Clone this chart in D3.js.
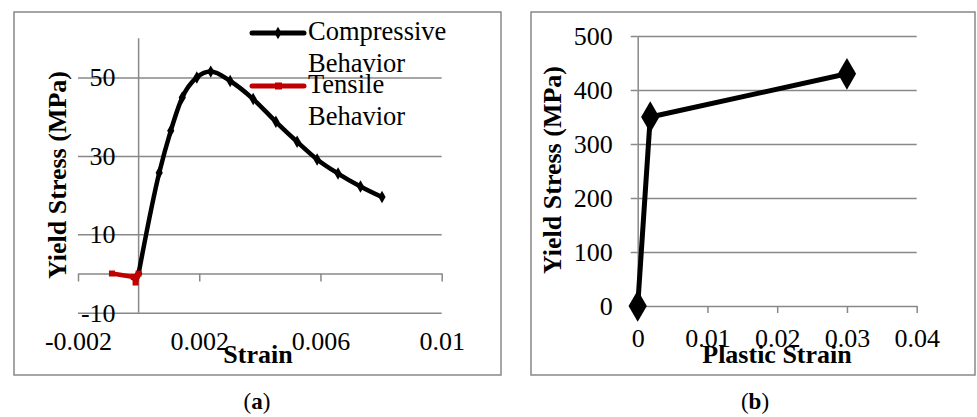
<!DOCTYPE html>
<html>
<head>
<meta charset="utf-8">
<script src="https://cdn.jsdelivr.net/npm/d3@7"></script>
<style>
  html, body { margin: 0; padding: 0; background: #fff; }
  svg { display: block; }
  text { font-family: "Liberation Serif", "Times New Roman", serif; fill: #000; }
</style>
</head>
<body>
<svg id="fig" width="977" height="417"></svg>
<script>
// ---- Panel (a): concrete behaviour ----
const compStrain = [0, 0.00068, 0.00106, 0.00144, 0.00192, 0.00238, 0.00302, 0.00378, 0.00453, 0.00523, 0.00589, 0.00658, 0.00732, 0.00803];
const compStress = [0, 25.7, 36.4, 44.9, 50.0, 51.5, 49.1, 44.5, 38.7, 33.6, 29.1, 25.5, 22.2, 19.5];
const tensStrain = [-0.00088, -0.00016, -0.00010, 0];
const tensStress = [0, -0.9, -2.3, 0];
const aXTicks = [-0.002, 0.002, 0.006, 0.01];
const aYTicks = [-10, 10, 30, 50];
const aXDomain = [-0.002, 0.01];
const aYDomain = [-10, 60];
const aSeries = ["Compressive Behavior", "Tensile Behavior"];

// ---- Panel (b): steel behaviour ----
const plasticStrain = [0, 0.0018, 0.03];
const steelStress = [0, 350, 430];
const bXTicks = [0, 0.01, 0.02, 0.03, 0.04];
const bYTicks = [0, 100, 200, 300, 400, 500];
const bXDomain = [0, 0.04];
const bYDomain = [0, 500];

const svg = d3.select("#fig");
const GRID = "#888888";
const RED = "#C00000";
const FS = 26;

function frame(x, y, w, h) {
  svg.append("rect").attr("x", x).attr("y", y).attr("width", w).attr("height", h)
    .attr("fill", "none").attr("stroke", GRID).attr("stroke-width", 1.5);
}

function styleAxis(g) {
  g.selectAll("path.domain").attr("stroke", GRID).attr("stroke-width", 1.5);
  g.selectAll(".tick line").attr("stroke", GRID).attr("stroke-width", 1.5);
  g.selectAll("text").attr("font-family", "Liberation Serif, Times New Roman, serif")
    .attr("font-size", FS).attr("fill", "#000");
}

const diamond = d3.symbol().type(d3.symbolDiamond);

// ================= Panel (a) =================
frame(14, 12, 487, 363);
const xA = d3.scaleLinear().domain(aXDomain).range([78, 441.7]);
const yA = d3.scaleLinear().domain(aYDomain).range([312.7, 38.3]);
const gA = svg.append("g");

// horizontal gridlines
gA.append("g").attr("transform", `translate(${xA.range()[0]},0)`)
  .call(d3.axisLeft(yA).tickValues(aYTicks).tickSize(-(xA.range()[1] - xA.range()[0])).tickFormat(""))
  .call(g => { g.select(".domain").remove(); styleAxis(g); });

// vertical axis crossing at strain 0
gA.append("g").attr("transform", `translate(${xA(0)},0)`)
  .call(d3.axisLeft(yA).tickValues(aYTicks).tickSize(0).tickPadding(23).tickFormat(d => String(d)))
  .call(g => { g.select(".domain").attr("d", `M0,${yA(aYDomain[0])}V${yA(aYDomain[1])}`); styleAxis(g); });

// horizontal axis at stress 0, tick marks pointing down
gA.append("g").attr("transform", `translate(0,${yA(0)})`)
  .call(d3.axisBottom(xA).tickValues(aXTicks).tickSizeInner(8).tickSizeOuter(0).tickFormat(""))
  .call(styleAxis);

// tick labels along the bottom of the plot
gA.append("g").attr("transform", `translate(0,${yA(-10)})`)
  .call(d3.axisBottom(xA).tickValues(aXTicks).tickSize(0).tickPadding(19).tickFormat(d => String(d)))
  .call(g => { g.select(".domain").remove(); styleAxis(g); });

const lineA = d3.line().x(d => xA(d[0])).y(d => yA(d[1]));
const compPts = compStrain.map((s, i) => [s, compStress[i]]);
const tensPts = tensStrain.map((s, i) => [s, tensStress[i]]);

gA.append("path").datum(compPts).attr("d", lineA.curve(d3.curveMonotoneX))
  .attr("fill", "none").attr("stroke", "#000").attr("stroke-width", 4.5).attr("stroke-linejoin", "round");
gA.selectAll(".cm").data(compPts).join("path").attr("class", "cm")
  .attr("transform", d => `translate(${xA(d[0])},${yA(d[1])})`)
  .attr("d", diamond.size(45)).attr("fill", "#000");

gA.append("path").datum(tensPts).attr("d", d3.line().x(d => xA(d[0])).y(d => yA(d[1])))
  .attr("fill", "none").attr("stroke", RED).attr("stroke-width", 4.5).attr("stroke-linejoin", "round");
gA.selectAll(".tm").data(tensPts).join("rect").attr("class", "tm")
  .attr("x", d => xA(d[0]) - 3).attr("y", d => yA(d[1]) - 3).attr("width", 6).attr("height", 6)
  .attr("fill", RED);

// axis titles
svg.append("text").attr("x", 258).attr("y", 363).attr("text-anchor", "middle")
  .attr("font-size", FS).attr("font-weight", "bold").text("Strain");
svg.append("text").attr("transform", "translate(66,175) rotate(-90)").attr("text-anchor", "middle")
  .attr("font-size", FS).attr("font-weight", "bold").text("Yield Stress (MPa)");

// legend
const legend = [
  { name: aSeries[0], color: "#000", y: 33, marker: "diamond" },
  { name: aSeries[1], color: RED, y: 86, marker: "square" }
];
legend.forEach(L => {
  svg.append("line").attr("x1", 252).attr("x2", 304).attr("y1", L.y).attr("y2", L.y)
    .attr("stroke", L.color).attr("stroke-width", 5).attr("stroke-linecap", "round");
  if (L.marker === "diamond") {
    svg.append("path").attr("transform", `translate(278,${L.y})`).attr("d", diamond.size(45)).attr("fill", L.color);
  } else {
    svg.append("rect").attr("x", 275).attr("y", L.y - 3.5).attr("width", 7).attr("height", 7).attr("fill", L.color);
  }
  const words = L.name.split(" ");
  const t = svg.append("text").attr("x", 308).attr("y", L.y + 7).attr("font-size", 26.5);
  t.append("tspan").attr("x", 308).text(words[0]);
  t.append("tspan").attr("x", 308).attr("dy", 32).text(words[1]);
});

// ================= Panel (b) =================
frame(531, 12, 444, 363);
const xB = d3.scaleLinear().domain(bXDomain).range([637.7, 916.7]);
const yB = d3.scaleLinear().domain(bYDomain).range([306, 36]);
const gB = svg.append("g");

gB.append("g").attr("transform", `translate(${xB.range()[0]},0)`)
  .call(d3.axisLeft(yB).tickValues(bYTicks.filter(v => v !== 0)).tickSizeInner(-(xB.range()[1] - xB.range()[0])).tickSizeOuter(0).tickFormat(""))
  .call(g => { g.select(".domain").remove(); styleAxis(g); });
gB.append("g").attr("transform", `translate(${xB.range()[0]},0)`)
  .call(d3.axisLeft(yB).tickValues(bYTicks).tickSizeInner(7).tickSizeOuter(0).tickPadding(18).tickFormat(d => String(d)))
  .call(styleAxis);
gB.append("g").attr("transform", `translate(0,${yB(0)})`)
  .call(d3.axisBottom(xB).tickValues(bXTicks).tickSizeInner(7).tickSizeOuter(0).tickPadding(16).tickFormat(d => String(d)))
  .call(styleAxis);

const steelPts = plasticStrain.map((s, i) => [s, steelStress[i]]);
gB.append("path").datum(steelPts).attr("d", d3.line().x(d => xB(d[0])).y(d => yB(d[1])))
  .attr("fill", "none").attr("stroke", "#000").attr("stroke-width", 5).attr("stroke-linejoin", "round");
gB.selectAll(".sm").data(steelPts).join("path").attr("class", "sm")
  .attr("transform", d => `translate(${xB(d[0])},${yB(d[1])})`)
  .attr("d", diamond.size(290)).attr("fill", "#000");

svg.append("text").attr("x", 777).attr("y", 363).attr("text-anchor", "middle")
  .attr("font-size", FS).attr("font-weight", "bold").text("Plastic Strain");
svg.append("text").attr("transform", "translate(561,170) rotate(-90)").attr("text-anchor", "middle")
  .attr("font-size", FS).attr("font-weight", "bold").text("Yield Stress (MPa)");

// ---- sub-figure captions ----
[["a", 257], ["b", 755]].forEach(([k, x]) => {
  const t = svg.append("text").attr("x", x).attr("y", 409).attr("text-anchor", "middle").attr("font-size", 23);
  t.append("tspan").text("(");
  t.append("tspan").attr("font-weight", "bold").text(k);
  t.append("tspan").text(")");
});
</script>
</body>
</html>
